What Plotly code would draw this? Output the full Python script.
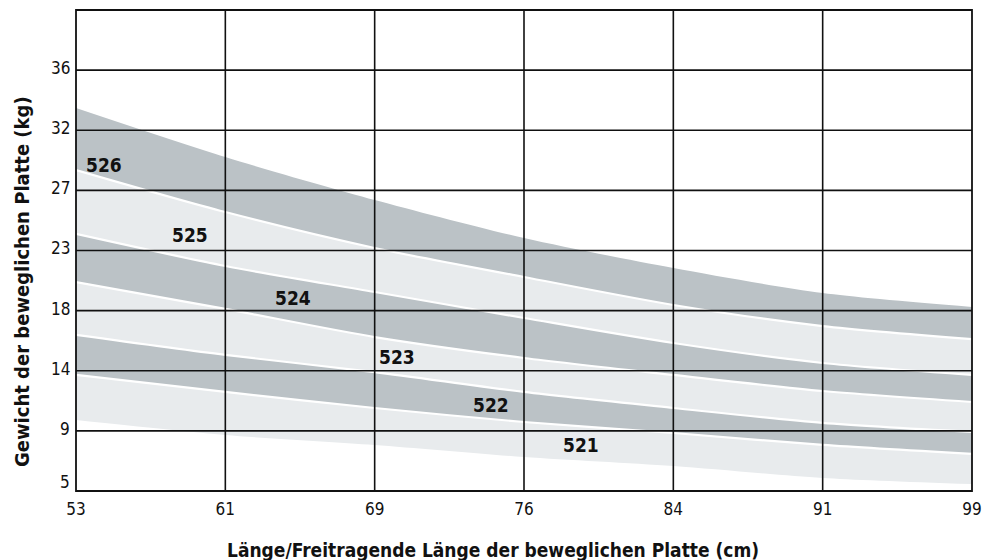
import plotly.graph_objects as go

# Plate length (cm) at the chart's vertical gridlines
length_cm = [53.34, 60.96, 68.58, 76.20, 83.82, 91.44, 99.06]
x_tick_vals = [53.34, 60.96, 68.58, 76.20, 83.82, 91.44, 99.06]
x_tick_text = ["53", "61", "69", "76", "84", "91", "99"]
y_tick_vals = [4.536, 9.072, 13.608, 18.144, 22.680, 27.216, 31.751, 36.287]
y_tick_text = ["5", "9", "14", "18", "23", "27", "32", "36"]

# Band boundaries, plate weight (kg), from top (A) to bottom (G)
bound_a = [33.43, 29.73, 26.49, 23.62, 21.36, 19.47, 18.42]
bound_b = [28.75, 25.58, 22.87, 20.68, 18.57, 16.98, 16.00]
bound_c = [23.93, 21.51, 19.55, 17.59, 15.70, 14.19, 13.29]
bound_d = [20.30, 18.27, 16.15, 14.57, 13.29, 12.08, 11.25]
bound_e = [16.31, 14.80, 13.51, 12.01, 10.80, 9.67, 8.99]
bound_f = [13.29, 12.01, 10.80, 9.74, 8.91, 8.01, 7.33]
bound_g = [9.89, 8.76, 8.01, 7.10, 6.42, 5.52, 5.06]

band_names = ["526", "525", "524", "523", "522", "521"]
label_x = [54.77, 59.16, 64.41, 69.72, 74.52, 79.11]
label_y = [29.13, 23.85, 19.10, 14.65, 11.02, 8.01]

DARK = "#bbc2c6"
LIGHT = "#e8ebed"
INK = "#111111"
FONT = "DejaVu Sans Condensed, Liberation Sans Narrow, sans-serif"

# figure geometry (page is offset by the 8px body margin)
W, H = 985, 552
ml, mr, mt, mb = 68, 21, 2, 69
pw, ph = W - ml - mr, H - mt - mb


def px_to_paper(px, py):
    return (px - ml) / pw, (mt + ph - py) / ph


fig = go.Figure()
# bottom to top: G, F, E, D, C, B, A
bounds = [bound_g, bound_f, bound_e, bound_d, bound_c, bound_b, bound_a]
fills = [None, LIGHT, DARK, LIGHT, DARK, LIGHT, DARK]
for i, (b, fc) in enumerate(zip(bounds, fills)):
    is_edge = i in (0, len(bounds) - 1)
    fig.add_trace(go.Scatter(
        x=length_cm, y=b, mode="lines",
        line=dict(color="white", width=0 if is_edge else 2.2, shape="spline", smoothing=0.8),
        fill=None if fc is None else "tonexty",
        fillcolor=fc, hoverinfo="skip", showlegend=False,
    ))

for name, lx, ly in zip(band_names, label_x, label_y):
    fig.add_annotation(x=lx, y=ly, text=f"<b>{name}</b>", showarrow=False,
                       font=dict(family=FONT, size=19, color=INK))

# gridlines on top of the bands
for xv in x_tick_vals[1:-1]:
    fig.add_shape(type="line", xref="x", yref="paper", x0=xv, x1=xv, y0=0, y1=1,
                  line=dict(color=INK, width=1.6), layer="above")
for yv in y_tick_vals[1:]:
    fig.add_shape(type="line", xref="paper", yref="y", x0=0, x1=1, y0=yv, y1=yv,
                  line=dict(color=INK, width=1.6), layer="above")
fig.add_shape(type="rect", xref="paper", yref="paper", x0=0, x1=1, y0=0, y1=1,
              line=dict(color=INK, width=1.8), layer="above")

# y tick labels (bottom one lifted off the corner like in the original)
for i, (yv, yt) in enumerate(zip(y_tick_vals, y_tick_text)):
    fig.add_annotation(xref="paper", yref="y", x=0, y=yv, text=yt, showarrow=False,
                       xanchor="right", yanchor="middle", xshift=-4,
                       yshift=9 if i == 0 else 2,
                       font=dict(family=FONT, size=17, color=INK))

tx, ty = px_to_paper(W / 2 - 8, 542)
fig.add_annotation(xref="paper", yref="paper", x=tx, y=ty,
                   text="<b>Länge/Freitragende Länge der beweglichen Platte (cm)</b>",
                   showarrow=False, font=dict(family=FONT, size=19, color=INK),
                   xanchor="center", yanchor="middle")
yx, yy = px_to_paper(14, 274)
fig.add_annotation(xref="paper", yref="paper", x=yx, y=yy,
                   text="<b>Gewicht der beweglichen Platte (kg)</b>", textangle=-90,
                   showarrow=False, font=dict(family=FONT, size=20, color=INK),
                   xanchor="center", yanchor="middle")

fig.update_layout(
    width=W, height=H,
    margin=dict(l=ml, r=mr, t=mt, b=mb),
    paper_bgcolor="white", plot_bgcolor="white",
    xaxis=dict(range=[x_tick_vals[0], x_tick_vals[-1]], tickvals=x_tick_vals, ticktext=x_tick_text,
               showgrid=False, zeroline=False, showline=False, ticks="",
               ticklabelstandoff=6,
               tickfont=dict(family=FONT, size=17, color=INK)),
    yaxis=dict(range=[4.536, 40.823], showticklabels=False,
               showgrid=False, zeroline=False, showline=False, ticks=""),
)

fig.write_html("out.html")
